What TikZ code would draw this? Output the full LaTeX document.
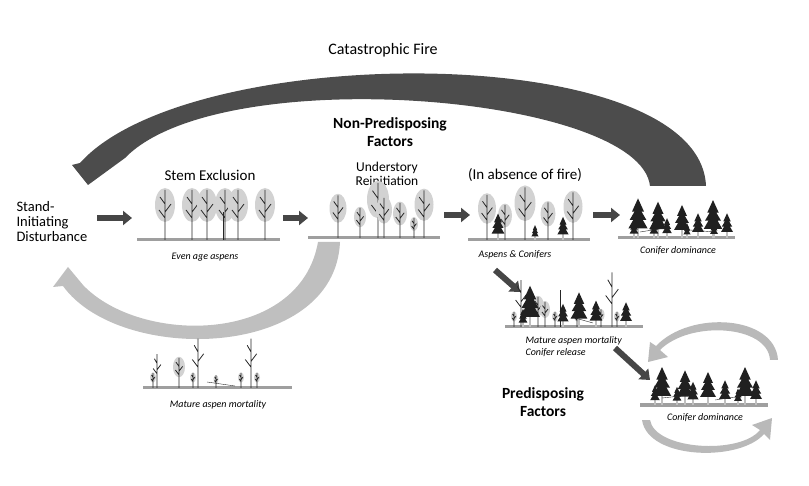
\documentclass[tikz,border=0pt]{standalone}
\usepackage{fontspec}
\setmainfont{Carlito}
\usetikzlibrary{arrows.meta}
\begin{document}
\begin{tikzpicture}[x=1pt,y=-1pt,
  ground/.style={draw=gray!75,line width=3pt},
  capt/.style={font=\fontsize{10}{12}\selectfont\itshape},
  ttl/.style={font=\fontsize{15}{13}\selectfont},
  bld/.style={font=\fontsize{15.5}{18}\selectfont\bfseries,align=center},
  pics/aspen/.style={code={
    \fill[gray!35] (0,-35) ellipse (10 and 17);
    \draw[gray!30!black,line width=0.8pt] (0,0)--(0,-50) (0,-22)--(-6,-30) (0,-28)--(6,-36) (0,-36)--(-5,-43);}},
  pics/dead/.style={code={
    \draw[gray!30!black,line width=0.8pt] (0,0)--(0,-52) (0,-22)--(-6,-30) (0,-28)--(6,-36) (0,-38)--(-4,-45);}},
  pics/conifer/.style={code={
    \draw[gray!50,line width=1.2pt] (0,0)--(0,-10);
    \fill[gray!25!black] (-8,-8)--(8,-8)--(0,-22)--cycle (-7,-15)--(7,-15)--(0,-27)--cycle (-5,-22)--(5,-22)--(0,-33)--cycle;}},
]
\useasboundingbox (0,0) rectangle (809,486);
% big fire arrow
\fill[gray!60!black] (650,186) .. controls (640,95) and (220,60) .. (125,158) -- (88,185) -- (72,165) -- (80,163)
   .. controls (190,40) and (700,40) .. (706,186) -- cycle;
% bottom-left loop arrow
\fill[gray!50] (318,242) .. controls (300,345) and (140,345) .. (83,285) -- (68,267) -- (53,287) -- (63,286)
   .. controls (120,365) and (335,360) .. (340,242) -- cycle;
% small loop arrows bottom right
\fill[gray!55] (770,360) .. controls (768,325) and (690,320) .. (660,350) -- (668,357) -- (648,362) -- (650,342) -- (656,346)
   .. controls (690,310) and (775,315) .. (778,360) -- cycle;
\fill[gray!55] (650,420) .. controls (655,450) and (740,455) .. (760,430) -- (752,425) -- (772,418) -- (770,440) -- (764,434)
   .. controls (740,462) and (648,460) .. (642,420) -- cycle;
% texts
\node[font=\fontsize{16}{16}\selectfont] (cf) at (383,50) {Catastrophic Fire};
\node[bld] (np) at (390,132) {Non-Predisposing\\Factors};
\node[font=\fontsize{14.5}{15}\selectfont,align=left,anchor=west] (sid) at (13,222) {Stand-\\Initiating\\Disturbance};
\node[ttl] (se) at (210,175) {Stem Exclusion};
\node[font=\fontsize{13.5}{14.5}\selectfont,align=center] (ur) at (387,174) {Understory\\Reinitiation};
\node[ttl] (ia) at (525,175) {(In absence of fire)};
\node[bld] (pf) at (543,402) {Predisposing\\Factors};
\node[capt] (c1) at (205,257) {Even age aspens};
\node[capt] (c3) at (515,255) {Aspens \& Conifers};
\node[capt] (c4) at (678,251) {Conifer dominance};
\node[capt,align=left,anchor=west] (c5) at (522,347) {Mature aspen mortality\\Conifer release};
\node[capt] (c6) at (705,418) {Conifer dominance};
\node[capt] (c7) at (218,405) {Mature aspen mortality};
% straight arrows
\coordinate (a1) at (97,218); \coordinate (b1) at (132,218);
\coordinate (a2) at (283,218); \coordinate (b2) at (308,218);
\coordinate (a3) at (444,215); \coordinate (b3) at (470,215);
\coordinate (a4) at (593,215); \coordinate (b4) at (620,215);
\coordinate (a5) at (495,270); \coordinate (b5) at (520,292);
\coordinate (a6) at (615,348); \coordinate (b6) at (650,380);
\foreach \a/\b in {a1/b1,a2/b2,a3/b3,a4/b4,a5/b5,a6/b6}
  \draw[gray!55!black,line width=6pt,-{Triangle[length=9pt,width=14pt]}] (\a)--(\b);
% scene 1
\draw[ground] (137,240)--(280,240);
\foreach \x in {165,192,207,225,238,265} \pic at (\x,240) {aspen};
\draw[gray!30!black,line width=0.8pt] (223,240)--(223,212);
% scene 2
\draw[ground] (308,238)--(440,238);
\foreach \x/\s in {338/0.85,360/0.6,378/1.1,384/0.8,400/0.7,414/0.4,424/0.95} \pic[scale=\s] at (\x,238) {aspen};
% scene 3
\draw[ground] (468,240)--(590,240);
\foreach \x/\s in {487/0.9,505/0.7,525/1.05,548/0.75,573/0.95} \pic[scale=\s] at (\x,240) {aspen};
\foreach \x/\s in {498/0.8,535/0.45,563/0.7} \pic[scale=\s] at (\x,240) {conifer};
% scene 4
\draw[ground] (618,238)--(735,238);
\foreach \x/\s in {638/1.2,658/1.1,634/0.55,654/0.55,667/0.6,682/1.0,698/0.75,713/1.15,727/0.75,714/0.5,687/0.45} \pic[scale=\s] at (\x,238) {conifer};
\draw[gray!30!black] (640,232)--(665,228) (690,230)--(715,232);
% scene 5
\draw[ground] (505,327)--(643,327);
\foreach \x/\s in {538/0.6,545/0.5,514/0.3,555/0.3,577/0.3,601/0.35,617/0.3} \pic[scale=\s] at (\x,327) {aspen};
\foreach \x/\s in {521/0.9,612/1.05} \pic[scale=\s] at (\x,327) {dead};
\draw[gray!30!black,line width=0.8pt] (560,327)--(560,290);
\foreach \x/\s in {530/1.25,523/0.55,563/0.7,579/1.05,596/0.8,626/0.75} \pic[scale=\s] at (\x,327) {conifer};
\draw[gray!30!black] (575,318)--(593,323);
% scene 6
\draw[ground] (640,405)--(768,405);
\foreach \x/\s in {662/1.15,685/1.05,655/0.6,677/0.55,693/0.7,708/1.0,725/0.75,745/1.15,738/0.5,756/0.75} \pic[scale=\s] at (\x,405) {conifer};
\draw[gray!30!black] (662,398)--(690,395) (715,400)--(742,396);
% scene 7
\draw[ground] (143,388)--(292,388);
\foreach \x/\s in {153/0.3,179/0.6,193/0.3,216/0.25,241/0.3,257/0.3} \pic[scale=\s] at (\x,388) {aspen};
\foreach \x/\s in {157/0.65,198/0.95,251/0.95} \pic[scale=\s] at (\x,388) {dead};
\draw[gray!30!black] (207,382)--(235,386);
\end{tikzpicture}
\end{document}
